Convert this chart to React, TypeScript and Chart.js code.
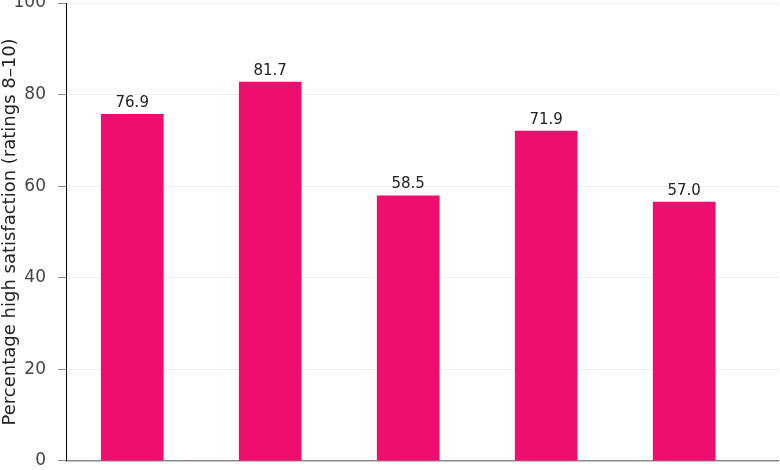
import React, { useEffect, useRef } from "react";
import { Chart, registerables } from "chart.js";

Chart.register(...registerables);

// Categories (their names are cut off below the visible area of the reference)
const categories: string[] = ["Group 1", "Group 2", "Group 3", "Group 4", "Group 5"];
// Bar heights as drawn
const barValues: number[] = [75.7, 82.7, 57.9, 72.0, 56.5];
// Values printed above the bars
const labelValues: number[] = [76.9, 81.7, 58.5, 71.9, 57.0];
// Y axis ticks
const yTicks: number[] = [0, 20, 40, 60, 80, 100];

const FONT = "'DejaVu Sans', sans-serif";

const valueLabelPlugin = {
  id: "valueLabels",
  afterDatasetsDraw(chart: any) {
    const ctx = chart.ctx;
    const meta = chart.getDatasetMeta(0);
    ctx.save();
    ctx.font = `15px ${FONT}`;
    ctx.fillStyle = "#222222";
    ctx.textAlign = "center";
    ctx.textBaseline = "bottom";
    meta.data.forEach((bar: any, i: number) => {
      ctx.fillText(labelValues[i].toFixed(1), bar.x, bar.y - 4);
    });
    ctx.restore();
  },
};

export default function App() {
  const canvasRef = useRef<HTMLCanvasElement | null>(null);

  useEffect(() => {
    document.body.style.overflow = "hidden";
    const canvas = canvasRef.current;
    if (!canvas) return;
    const chart = new Chart(canvas, {
      type: "bar",
      data: {
        labels: categories,
        datasets: [
          {
            data: categories.map((c, i) => ({ x: i, y: barValues[i] })) as any,
            backgroundColor: "#ED0E6D",
            borderWidth: 0,
            barThickness: 62,
          },
        ],
      },
      options: {
        animation: false,
        responsive: true,
        maintainAspectRatio: false,
        layout: { padding: { top: 23, right: 2, bottom: 9, left: 0 } },
        plugins: {
          legend: { display: false },
          tooltip: { enabled: false },
        },
        scales: {
          x: {
            type: "linear",
            offset: false,
            bounds: "data",
            min: -0.48,
            max: 4.68,
            ticks: { display: false },
            grid: { display: true, drawOnChartArea: false, drawTicks: false, color: "rgba(0,0,0,0)" },
            border: { display: true, color: "#8a8a8a", width: 1.5 },
            afterFit(scale: any) {
              scale.height = 0;
            },
          },
          y: {
            min: 0,
            max: 100,
            afterBuildTicks(scale: any) {
              scale.ticks = yTicks.map((v) => ({ value: v }));
            },
            ticks: {
              padding: 12,
              color: "#444444",
              font: { family: FONT, size: 17 },
            },
            grid: {
              color: "#e9f0f0",
              tickColor: "#8a8a8a",
              tickLength: 8,
            },
            border: { display: true, color: "#000000", width: 1 },
            title: {
              display: true,
              text: "Percentage high satisfaction (ratings 8–10)",
              color: "#222222",
              font: { family: FONT, size: 18 },
              padding: { top: 0, bottom: 0 },
            },
            afterFit(scale: any) {
              scale.width = 66;
            },
          },
        },
      },
      plugins: [valueLabelPlugin],
    });
    return () => chart.destroy();
  }, []);

  return (
    <div style={{ position: "absolute", left: 0, top: -20, width: 780, height: 503 }}>
      <canvas ref={canvasRef} />
    </div>
  );
}
